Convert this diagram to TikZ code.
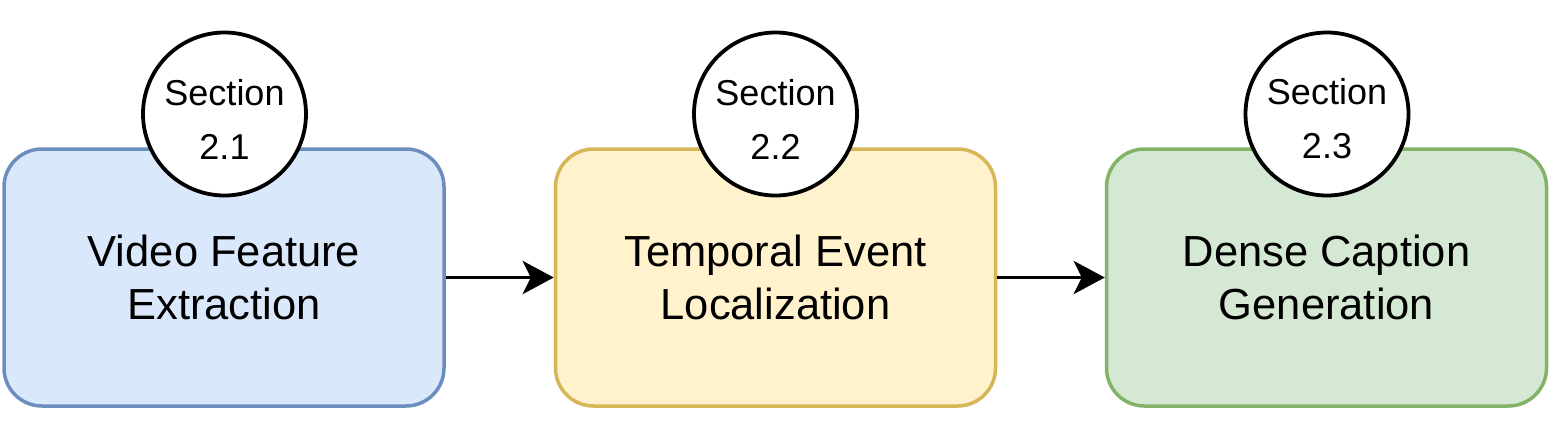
\documentclass[tikz,border=0pt]{standalone}
\usepackage{fontspec}
\setmainfont{Liberation Sans}
\usetikzlibrary{arrows.meta}
\definecolor{bfill}{HTML}{DAE8FC}\definecolor{bline}{HTML}{6C8EBF}
\definecolor{yfill}{HTML}{FFF2CC}\definecolor{yline}{HTML}{D6B656}
\definecolor{gfill}{HTML}{D5E8D4}\definecolor{gline}{HTML}{82B366}
\tikzset{
  stagebox/.style={draw, line width=3.5pt, rounded corners=38pt, minimum width=440pt, minimum height=257pt, inner sep=0pt},
  stagetext/.style={align=center, font=\fontsize{43.5}{53}\selectfont, inner sep=0pt},
  secball/.style={draw, line width=3.8pt, fill=white, circle, minimum size=163pt, inner sep=0pt},
  sectext/.style={align=center, font=\fontsize{36}{54}\selectfont, inner sep=0pt},
  flow/.style={line width=3.8pt, -{Stealth[length=31pt,width=33pt,inset=8pt]}}
}
\begin{document}
\begin{tikzpicture}[x=1pt,y=-1pt]
\useasboundingbox (0,0) rectangle (1554,447);
\node[stagebox, fill=bfill, draw=bline] (b1) at (224,277.5) {};
\node[stagebox, fill=yfill, draw=yline] (b2) at (775.5,277.5) {};
\node[stagebox, fill=gfill, draw=gline] (b3) at (1326.5,277.5) {};
\node[stagetext] (t1) at (b1) {Video Feature\\Extraction};
\node[stagetext] (t2) at (b2) {Temporal Event\\Localization};
\node[stagetext] (t3) at (b3) {Dense Caption\\Generation};
\node[secball] (c1) at (224.5,114) {};
\node[secball] (c2) at (775.5,114) {};
\node[secball] (c3) at (1327,114) {};
\node[sectext] (s1) at (224.5,119) {Section\\2.1};
\node[sectext] (s2) at (775.5,119) {Section\\2.2};
\node[sectext] (s3) at (1327,119) {Section\\2.3};
\draw[flow] (b1.east) -- (b2.west);
\draw[flow] (b2.east) -- (b3.west);
\end{tikzpicture}
\end{document}
